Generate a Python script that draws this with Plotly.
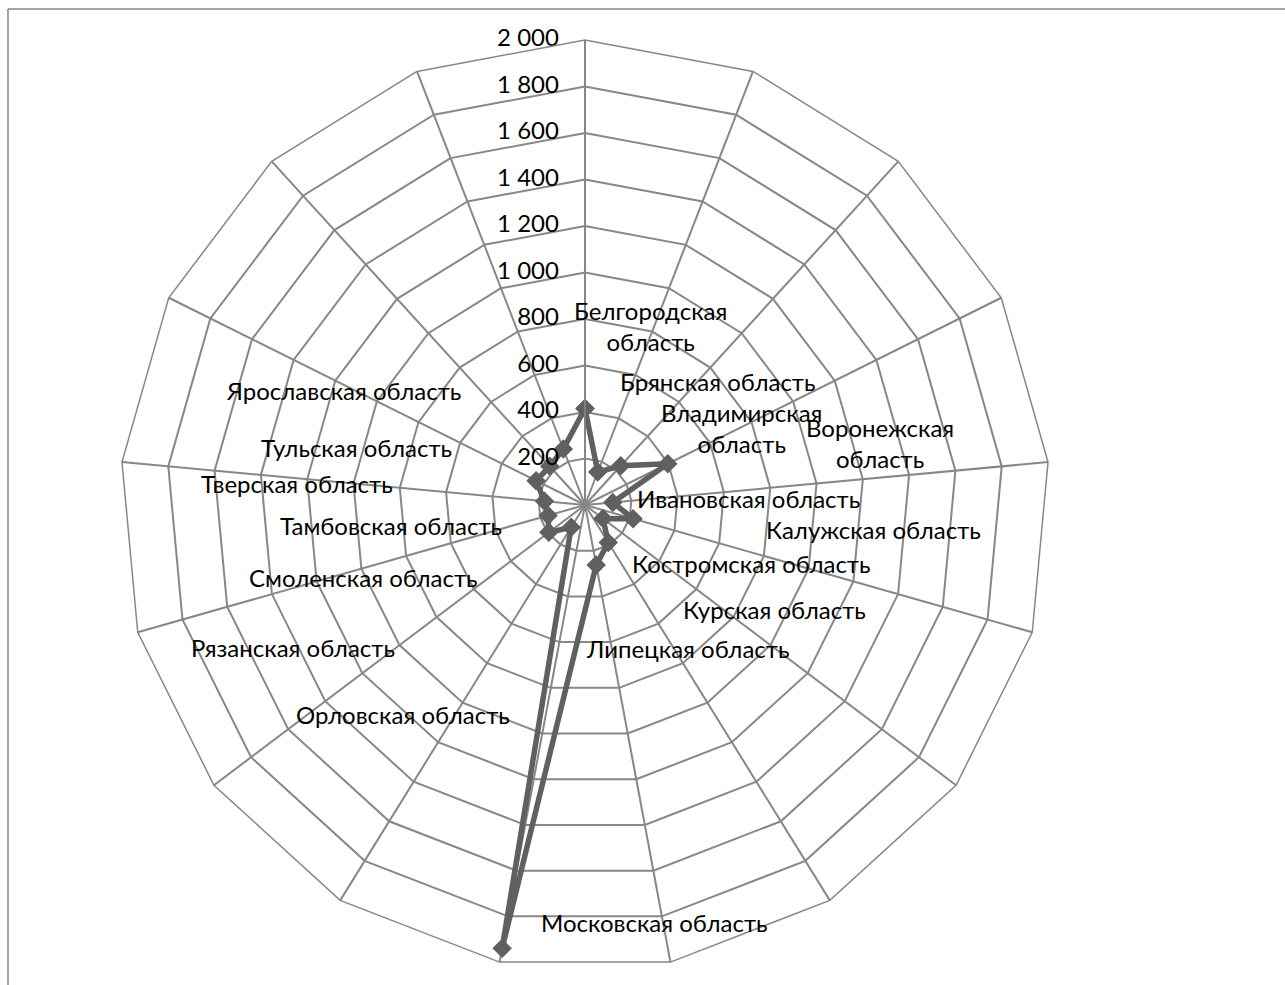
import plotly.graph_objects as go

categories = ["Белгородская область", "Брянская область", "Владимирская область",
              "Воронежская область", "Ивановская область", "Калужская область",
              "Костромская область", "Курская область", "Липецкая область",
              "Московская область", "Орловская область", "Рязанская область",
              "Смоленская область", "Тамбовская область", "Тверская область",
              "Тульская область", "Ярославская область"]
values = [415, 152, 228, 398, 120, 215, 97, 190, 262, 1940, 113, 195, 165, 175, 235, 225, 258]
tick_vals = [0, 200, 400, 600, 800, 1000, 1200, 1400, 1600, 1800, 2000]
tick_text = ["0", "200", "400", "600", "800", "1 000", "1 200", "1 400", "1 600", "1 800", "2 000"]

# label display text and pixel centres (layout only)
label_text = ["Белгородская<br>область", "Брянская область", "Владимирская<br>область",
              "Воронежская<br>область", "Ивановская область", "Калужская область",
              "Костромская область", "Курская область", "Липецкая область",
              "Московская область", "Орловская область", "Рязанская область",
              "Смоленская область", "Тамбовская область", "Тверская область",
              "Тульская область", "Ярославская область"]
label_px = [(650, 326), (718, 381), (742, 428), (880, 443), (748, 498), (873, 529),
            (751, 563), (774, 609), (687, 648), (654, 922), (403, 714), (293, 647),
            (363, 577), (391, 525), (297, 483), (356, 447), (343, 391)]

W, H = 1285, 985
CX, CY, R = 585, 505, 465
GRID = "#878787"
LINE = "#606060"
FONT = "Lato"

fig = go.Figure()
fig.add_trace(go.Scatterpolar(
    r=values + values[:1], theta=categories + categories[:1],
    mode="lines+markers",
    line=dict(color=LINE, width=5.5),
    marker=dict(symbol="diamond", size=15, color=LINE),
    hoverinfo="skip", showlegend=False,
))
# radial tick labels, placed through the polar scale
pad = "\u00a0" * 4 + "\u200a"
fig.add_trace(go.Scatterpolar(
    r=tick_vals, theta=[categories[0]] * len(tick_vals),
    mode="text", text=[t + pad for t in tick_text],
    textposition="middle left",
    textfont=dict(family=FONT, size=24, color="black"),
    hoverinfo="skip", showlegend=False, cliponaxis=False,
))

annotations = []
for txt, (px, py) in zip(label_text, label_px):
    annotations.append(dict(
        x=px / W, y=1 - py / H, xref="paper", yref="paper",
        text=txt, showarrow=False, xanchor="center", yanchor="middle",
        font=dict(family=FONT, size=24, color="black"),
    ))

fig.update_layout(
    width=W, height=H,
    margin=dict(l=0, r=0, t=0, b=0),
    paper_bgcolor="white", plot_bgcolor="white",
    font=dict(family=FONT, size=24, color="black"),
    polar=dict(
        domain=dict(x=[(CX - R) / W, (CX + R) / W], y=[1 - (CY + R) / H, 1 - (CY - R) / H]),
        bgcolor="white",
        gridshape="linear",
        angularaxis=dict(
            direction="clockwise", rotation=90,
            showticklabels=False, ticks="",
            showgrid=True, gridcolor=GRID, gridwidth=1.5,
            showline=True, linecolor=GRID, linewidth=1.5,
        ),
        radialaxis=dict(
            range=[0, 2000], angle=90,
            tickvals=tick_vals, showticklabels=False, ticks="",
            showgrid=True, gridcolor=GRID, gridwidth=1.5,
            showline=True, linecolor=GRID, linewidth=1.5,
        ),
    ),
    annotations=annotations,
    shapes=[
        dict(type="line", xref="paper", yref="paper", x0=8 / W, x1=1, y0=1 - 9 / H, y1=1 - 9 / H,
             line=dict(color=GRID, width=1.5)),
        dict(type="line", xref="paper", yref="paper", x0=8 / W, x1=8 / W, y0=0, y1=1 - 9 / H,
             line=dict(color=GRID, width=1.5)),
    ],
)

fig.write_html("out.html", config={"displayModeBar": False},
               post_script="document.body.style.margin='0';document.body.style.overflow='hidden';")
